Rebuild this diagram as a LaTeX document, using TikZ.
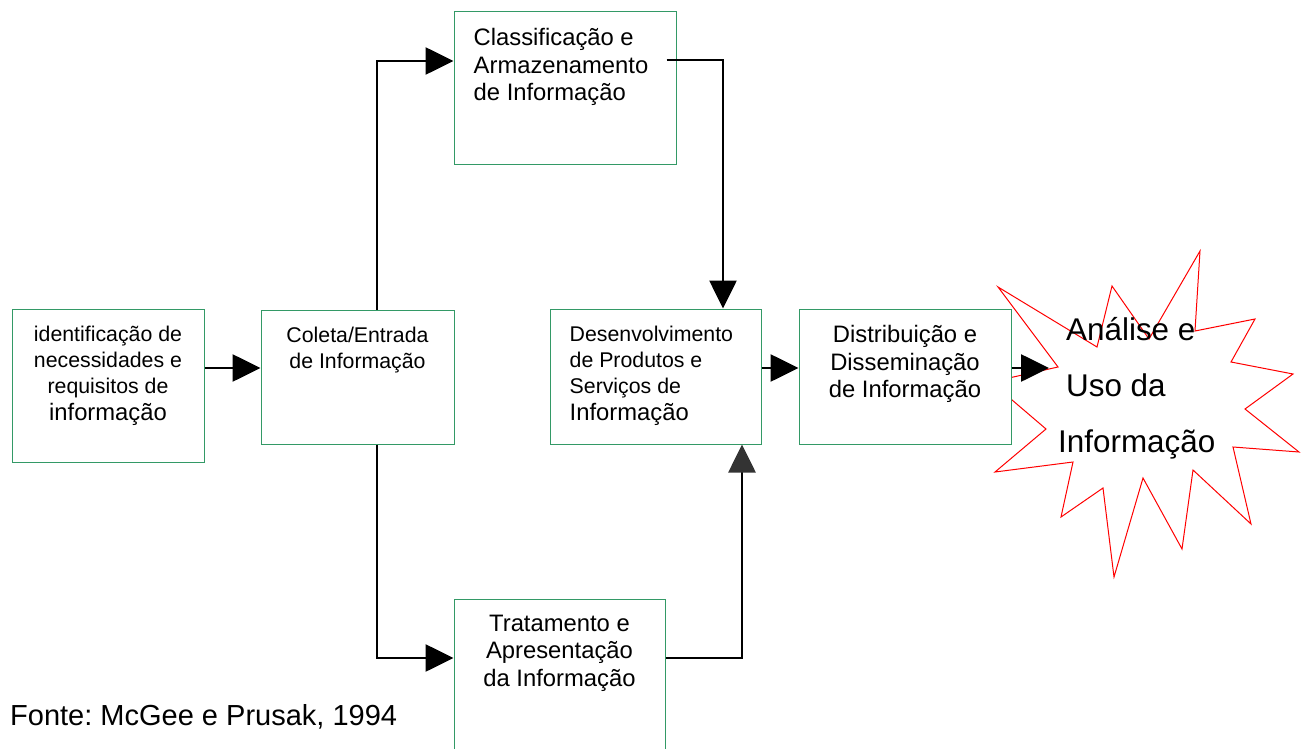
\documentclass[tikz,border=0pt]{standalone}
\usepackage{fontspec}
\setmainfont{Liberation Sans}
\usetikzlibrary{arrows.meta,positioning}
\definecolor{boxgreen}{RGB}{51,153,102}
\definecolor{burstred}{RGB}{255,0,0}
\definecolor{dkgray}{RGB}{51,51,51}
\def\boxfont{\fontsize{21.3}{26}\selectfont}
\def\bigfont{\fontsize{23.8}{27.5}\selectfont}
\def\burstfont{\fontsize{31.4}{56}\selectfont}
\frenchspacing

\begin{document}
\begin{tikzpicture}[x=1pt,y=-1pt]
\tikzstyle{stage}=[draw=boxgreen,fill=white,line width=1pt,inner sep=0pt]
\tikzstyle{ctext}=[anchor=north,yshift=-17pt,inner sep=0pt,align=center,font=\boxfont]
\tikzstyle{ltext}=[anchor=north west,xshift=20pt,yshift=-17pt,inner sep=0pt,align=left,font=\boxfont]
\tikzstyle{flow}=[line width=2.7pt,-{Triangle[length=28pt,width=27pt]}]

\useasboundingbox (0,0) rectangle (1307,749);

% Draw the burst first, the last box covers part of it
\draw[burstred,line width=1pt,line join=miter]
  (998,287) -- (1097,347) -- (1112,286) -- (1149,339) -- (1200,251) -- (1195,331)
  -- (1255,319) -- (1231,362) -- (1293,374) -- (1245,409) -- (1299,452) -- (1233,447)
  -- (1251,524) -- (1193,470) -- (1182,549) -- (1143,478) -- (1114,577) -- (1103,488)
  -- (1061,517) -- (1073,462) -- (995,472) -- (1046,429) -- (991,382) -- (1058,367) -- cycle;
\coordinate (burst) at (1049,368);
\node[anchor=base west,inner sep=0pt,align=left,font=\burstfont] (uso) at (1066,452)
  {Análise e\\Uso da\\\hspace*{-8pt}Informação};

% Draw the stages
\node[stage,minimum width=192,minimum height=153,
  label={[ctext]north:identificação de\\necessidades e\\requisitos de\\[1pt]{\bigfont informação}}]
  (idn) at (108,385.5) {};
\node[stage,minimum width=193,minimum height=134,
  label={[ctext]north:Coleta/Entrada\\de Informação}]
  (col) at (357.5,377) {};
\node[stage,minimum width=222,minimum height=153,
  label={[ltext,font=\bigfont]north west:Classificação e\\Armazenamento\\de Informação}]
  (cla) at (565,88.5) {};
\node[stage,minimum width=211,minimum height=135,
  label={[ltext]north west:Desenvolvimento\\de Produtos e\\Serviços de\\[1pt]{\bigfont Informação}}]
  (des) at (655.5,376.5) {};
\node[stage,minimum width=212,minimum height=135,
  label={[ctext,font=\bigfont]north:Distribuição e\\Disseminação\\de Informação}]
  (dis) at (905,376.5) {};
\node[stage,minimum width=211,minimum height=161,
  label={[ctext,font=\bigfont,yshift=1pt]north:Tratamento e\\Apresentação\\da Informação}]
  (tra) at (559.5,679.5) {};

% Connect the stages
\draw[flow] ([yshift=17.5pt]idn.east) -- ([yshift=9pt]col.west);
\draw[flow] ([xshift=19.5pt]col.north) |- ([yshift=27.5pt]cla.west);
\draw[flow] ([xshift=19.5pt]col.south) |- ([yshift=21.5pt]tra.west);
\draw[flow] ([xshift=-10pt,yshift=28.5pt]cla.east) -| ([xshift=67.5pt]des.north);
\draw[flow,-{Triangle[length=28pt,width=27pt,color=dkgray]}]
  ([yshift=21.5pt]tra.east) -| ([xshift=86.5pt]des.south);
\draw[flow] ([yshift=8.5pt]des.east) -- ([yshift=8.5pt]dis.west);
\draw[flow] ([yshift=8.5pt]dis.east) -- (burst);

% Source
\node[anchor=base west,inner sep=0pt,font=\fontsize{29}{34}\selectfont] (fonte)
  at (10,725) {Fonte: McGee e Prusak, 1994};
\end{tikzpicture}
\end{document}
